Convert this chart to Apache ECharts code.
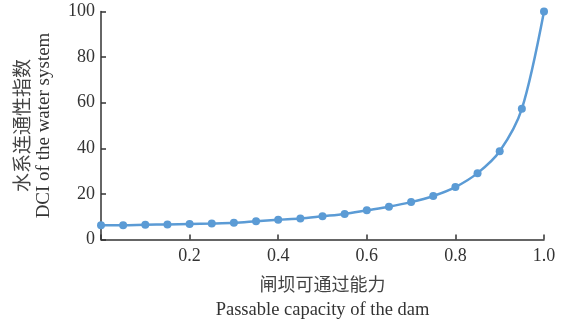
<!DOCTYPE html>
<html>
<head>
<meta charset="utf-8">
<script src="https://cdn.jsdelivr.net/npm/echarts@6/dist/echarts.min.js"></script>
<style>
  html, body { margin: 0; padding: 0; background: #fff; }
  #chart { width: 565px; height: 325px; }
</style>
</head>
<body>
<div id="chart"></div>
<script>
// 闸坝可通过能力 vs 水系连通性指数
var passability = [0, 0.05, 0.1, 0.15, 0.2, 0.25, 0.3, 0.35, 0.4, 0.45, 0.5,
  0.55, 0.6, 0.65, 0.7, 0.75, 0.8, 0.85, 0.9, 0.95, 1.0];
var dci = [6.3, 6.3, 6.5, 6.6, 6.8, 7.0, 7.3, 8.0, 8.7, 9.2, 10.2,
  11.2, 12.8, 14.4, 16.4, 19.1, 23.0, 29.1, 38.7, 57.3, 100];
var xTicks = ['', '0.2', '0.4', '0.6', '0.8', '1.0'];
var yTicks = ['0', '20', '40', '60', '80', '100'];

var chartDom = document.getElementById('chart');
var myChart = echarts.init(chartDom);
var option;

var serif = '"Liberation Serif", "DejaVu Serif", serif';
var cjk = '"Noto Sans CJK SC", sans-serif';

option = {
  animation: false,
  grid: {
    left: 101,
    right: 21,
    top: 11.5,
    bottom: 82
  },
  xAxis: {
    type: 'value',
    min: 0,
    max: 1,
    interval: 0.2,
    name: '{cn|闸坝可通过能力}\n{en|Passable capacity of the dam}',
    nameLocation: 'middle',
    nameGap: 32,
    nameTextStyle: {
      rich: {
        cn: { fontFamily: cjk, fontSize: 18, color: '#444', lineHeight: 26 },
        en: { fontFamily: serif, fontSize: 18.5, color: '#333', lineHeight: 26 }
      }
    },
    axisLine: { lineStyle: { color: '#333', width: 1.5 } },
    axisTick: { inside: true, length: 5, lineStyle: { color: '#333', width: 1.5 } },
    axisLabel: {
      fontFamily: serif,
      fontSize: 18,
      color: '#333',
      margin: 8,
      formatter: function (v) { return xTicks[Math.round(v / 0.2)]; }
    },
    splitLine: { show: false }
  },
  yAxis: {
    type: 'value',
    min: 0,
    max: 100,
    interval: 20,
    name: '{cn|水系连通性指数}\n{en|DCI of the water system}',
    nameLocation: 'middle',
    nameGap: 45,
    nameTextStyle: {
      rich: {
        cn: { fontFamily: cjk, fontSize: 19, color: '#444', lineHeight: 23 },
        en: { fontFamily: serif, fontSize: 19, color: '#333', lineHeight: 23 }
      }
    },
    axisLine: { show: true, lineStyle: { color: '#333', width: 1.5 } },
    axisTick: { show: true, inside: true, length: 5, lineStyle: { color: '#333', width: 1.5 } },
    axisLabel: {
      fontFamily: serif,
      fontSize: 18,
      color: '#333',
      margin: 6,
      formatter: function (v) { return yTicks[Math.round(v / 20)]; }
    },
    splitLine: { show: false }
  },
  series: [
    {
      type: 'line',
      smooth: 0.3,
      data: passability.map(function (x, i) { return [x, dci[i]]; }),
      symbol: 'circle',
      symbolSize: 8,
      itemStyle: { color: '#5B9BD5' },
      lineStyle: { color: '#5B9BD5', width: 2.5 }
    }
  ]
};

option && myChart.setOption(option);
</script>
</body>
</html>
